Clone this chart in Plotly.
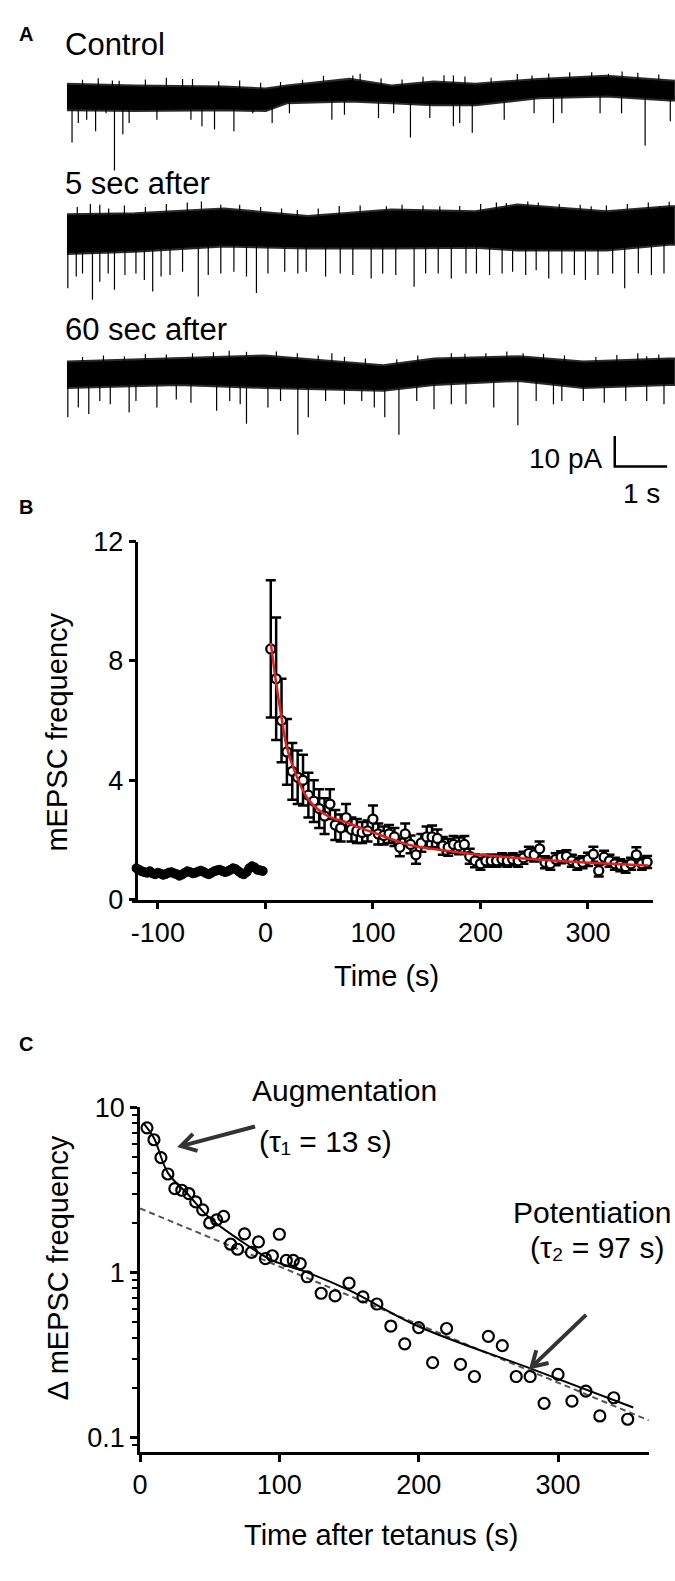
import math
import plotly.graph_objects as go

W, H = 675, 1581
def fx(px): return px / W
def fy(py): return 1 - py / H
FONT = "Liberation Sans, Arial, sans-serif"

# ---------------- Panel A: traces (time in s, current in pA relative to each trace baseline) ----------------
ctrl_env_s   = [0, 1.3, 3.0, 3.8, 4.2, 5.4, 6.2, 7.0, 7.8, 9.0, 10.3, 11.5, 11.61]
ctrl_top     = [3.2, 2.6, 2.3, 1.6, 2.6, 4.8, 2.6, 3.9, 3.2, 4.8, 5.8, 4.2, 4.2]
ctrl_bot     = [-5.5, -5.8, -5.5, -5.8, -3.2, -2.6, -3.2, -3.9, -3.9, -1.6, -1.0, -2.3, -2.3]
ctrl_dn_s    = [0.10, 0.22, 0.38, 0.55, 0.75, 0.91, 1.07, 1.19, 1.72, 2.37, 2.58, 2.82, 3.19, 3.55,
                3.92, 4.25, 5.06, 5.30, 5.95, 6.24, 6.56, 6.93, 7.38, 7.50, 7.74, 8.35, 8.92, 9.29,
                9.45, 10.18, 10.59, 11.04, 11.52]
ctrl_dn_pA   = [-16.1, -9.7, -8.6, -12.4, -6.5, -25.3, -13.4, -9.7, -8.6, -8.6, -10.8, -11.8, -12.4,
                -6.5, -9.7, -6.5, -8.6, -7.0, -8.1, -6.5, -14.5, -8.1, -10.8, -9.7, -12.9, -8.6,
                -6.5, -9.7, -6.5, -6.5, -6.5, -17.2, -9.1]
ctrl_up_s    = [0.3, 0.6, 0.87, 1.0, 1.5, 1.9, 2.21, 2.4, 2.9, 3.3, 3.7, 4.08, 4.5, 4.9, 5.46, 5.6,
                6.0, 6.4, 6.8, 7.2, 7.38, 7.6, 8.1, 8.6, 8.88, 9.2, 9.6, 10.02, 10.34, 10.6, 10.9, 11.3]
ctrl_up_pA   = [4.5, 5.0, 4.3, 4.2, 4.6, 5.2, 4.8, 4.8, 4.0, 4.3, 3.5, 3.8, 4.5, 5.8, 5.9, 6.5,
                5.0, 4.6, 5.5, 6.0, 5.9, 5.6, 5.2, 6.4, 5.9, 6.6, 7.0, 7.0, 6.5, 7.2, 6.8, 6.2]

s5_env_s     = [0, 1.3, 3.0, 4.6, 6.2, 7.8, 8.6, 10.3, 11.5, 11.61]
s5_top       = [7.1, 7.4, 9.0, 6.5, 8.7, 8.1, 10.3, 8.1, 9.7, 9.7]
s5_bot       = [-6.0, -5.2, -3.5, -4.2, -4.2, -3.9, -4.8, -4.8, -2.9, -2.9]
s5_dn_s      = [0.02, 0.18, 0.30, 0.49, 0.63, 0.79, 0.91, 1.11, 1.32, 1.48, 1.64, 1.80, 1.97, 2.21,
                2.51, 2.70, 2.94, 3.19, 3.43, 3.62, 3.84, 4.16, 4.41, 4.57, 4.94, 5.22, 5.46, 5.81,
                6.03, 6.28, 6.63, 6.85, 7.09, 7.34, 7.62, 7.82, 8.07, 8.31, 8.51, 8.76, 8.96, 9.20,
                9.45, 9.69, 9.90, 10.14, 10.42, 10.65, 10.91, 11.16, 11.40]
s5_dn_pA     = [-17.2, -13.4, -12.4, -21.0, -15.1, -12.4, -17.7, -12.9, -12.4, -14.5, -18.3, -13.4,
                -12.9, -11.8, -19.9, -12.9, -12.4, -11.8, -13.4, -18.8, -12.4, -11.8, -12.4, -11.8,
                -13.4, -12.4, -12.9, -14.0, -12.4, -12.9, -16.7, -12.4, -12.4, -14.0, -12.4, -12.4,
                -12.9, -12.4, -11.8, -12.9, -11.3, -14.0, -12.4, -12.9, -14.5, -12.9, -12.4, -17.2,
                -12.4, -12.9, -12.4]
s5_up_s      = [0.2, 0.45, 0.63, 0.8, 1.1, 1.5, 1.9, 2.3, 2.57, 2.94, 3.3, 3.7, 4.1, 4.4, 4.8, 5.2,
                5.6, 6.10, 6.4, 6.8, 7.12, 7.5, 7.9, 8.2, 8.39, 8.80, 9.0, 9.4, 9.8, 10.01, 10.3, 10.7,
                11.1, 11.32, 11.5]
s5_up_pA     = [9.5, 10.5, 10.2, 9.0, 10.0, 9.5, 10.5, 11.0, 11.3, 10.2, 10.2, 9.5, 9.0, 8.5, 9.0,
                9.8, 10.0, 9.7, 10.2, 10.0, 9.7, 9.8, 10.5, 11.0, 10.8, 11.3, 11.0, 10.5, 10.2, 9.7,
                10.0, 10.5, 11.0, 9.7, 11.2]

s60_env_s    = [0, 2.13, 3.77, 6.04, 7.01, 8.63, 9.86, 11.48, 11.61]
s60_top      = [3.5, 4.5, 5.5, 2.3, 4.5, 5.2, 3.5, 4.5, 4.5]
s60_bot      = [-5.2, -4.2, -5.2, -6.1, -4.2, -2.9, -5.2, -4.2, -4.2]
s60_dn_s     = [0.02, 0.22, 0.42, 0.63, 0.83, 1.19, 1.32, 1.72, 2.09, 2.37, 2.86, 3.11, 3.31, 3.43,
                3.84, 4.08, 4.41, 4.61, 4.94, 5.30, 5.63, 5.87, 6.07, 6.34, 6.68, 7.01, 7.34, 7.62,
                8.15, 8.61, 8.96, 9.29, 9.45, 9.86, 10.26, 10.67, 11.07, 11.40]
s60_dn_pA    = [-14.8, -11.6, -13.8, -9.5, -10.6, -13.3, -9.5, -11.6, -9.0, -10.1, -12.7, -9.5,
                -10.6, -17.0, -11.6, -9.5, -20.6, -14.8, -9.5, -10.6, -9.5, -11.6, -14.8, -20.6,
                -9.5, -12.2, -10.6, -10.6, -11.6, -17.5, -9.5, -10.6, -9.5, -9.5, -10.1, -9.5,
                -9.5, -10.6]
s60_up_s     = [0.3, 0.7, 1.1, 1.5, 1.9, 2.4, 2.8, 3.1, 3.43, 4.0, 4.4, 4.8, 5.06, 5.3, 5.7, 6.3,
                6.7, 7.34, 7.6, 8.0, 8.4, 8.71, 9.1, 9.5, 10.1, 10.5, 10.9, 11.07, 11.3]
s60_up_pA    = [5.0, 5.5, 5.2, 6.0, 5.8, 6.2, 6.5, 7.0, 6.7, 6.8, 6.2, 5.5, 6.2, 5.0, 4.5, 4.2,
               5.5, 6.2, 6.0, 6.2, 6.8, 6.2, 6.0, 5.5, 5.0, 5.6, 6.2, 5.2, 5.8]

# ---------------- Panel B ----------------
pre_t = [-120, -117.5, -115, -112.5, -110, -107.5, -105, -102.5, -100, -97.5, -95, -92.5,
         -90, -87.5, -85, -82.5, -80, -77.5, -75, -72.5, -70, -67.5, -65, -62.5,
         -60, -57.5, -55, -52.5, -50, -47.5, -45, -42.5, -40, -37.5, -35, -32.5,
         -30, -27.5, -25, -22.5, -20, -17.5, -15, -12.5, -10, -7.5, -5, -2.5]
pre_v = [1.05, 1.0, 0.95, 0.92, 0.9, 0.95, 0.88, 0.85, 0.9, 0.87, 0.83, 0.86,
         0.9, 0.92, 0.88, 0.85, 0.8, 0.84, 0.9, 0.95, 0.92, 0.88, 0.9, 0.94,
         0.97, 0.93, 0.88, 0.85, 0.9, 0.95, 0.98, 1.0, 0.96, 0.92, 0.95, 1.0,
         1.05, 1.02, 0.95, 0.88, 0.85, 0.92, 1.05, 1.12, 1.08, 1.0, 0.98, 0.96]
post_t = [5, 10, 15, 20, 25, 30, 35, 40, 45, 50, 55, 60, 65, 70, 75, 80, 85, 90, 95, 100,
          105, 110, 115, 120, 125, 130, 135, 140, 145, 150, 155, 160, 165, 170, 175, 180,
          185, 190, 195, 200, 205, 210, 215, 220, 225, 230, 235, 240, 245, 250, 255, 260,
          265, 270, 275, 280, 285, 290, 295, 300, 305, 310, 315, 320, 325, 330, 335, 340,
          345, 350, 355]
post_v = [8.4, 7.4, 6.0, 4.95, 4.3, 4.1, 4.0, 3.5, 3.3, 3.05, 2.8, 3.2, 2.5, 2.4, 2.75, 2.35,
          2.3, 2.25, 2.3, 2.7, 2.2, 2.15, 2.2, 2.1, 1.75, 2.2, 1.85, 1.5, 1.9, 2.1, 2.1, 2.05,
          1.8, 1.75, 1.85, 1.8, 1.85, 1.45, 1.3, 1.2, 1.3, 1.3, 1.3, 1.35, 1.3, 1.35, 1.3, 1.4,
          1.55, 1.5, 1.7, 1.25, 1.2, 1.35, 1.42, 1.45, 1.3, 1.2, 1.25, 1.35, 1.52, 0.97, 1.42,
          1.3, 1.2, 1.15, 1.1, 1.2, 1.5, 1.2, 1.26]
post_se = [2.3, 2.05, 1.4, 1.1, 0.95, 0.9, 0.85, 0.75, 0.7, 0.65, 0.6, 0.5, 0.5, 0.45, 0.45,
           0.4, 0.4, 0.35, 0.35, 0.45, 0.35, 0.3, 0.3, 0.3, 0.3, 0.35, 0.3, 0.3, 0.3, 0.35,
           0.38, 0.3, 0.3, 0.28, 0.28, 0.28, 0.28, 0.25, 0.22, 0.2, 0.2, 0.2, 0.2, 0.2, 0.2,
           0.2, 0.2, 0.2, 0.22, 0.22, 0.25, 0.2, 0.2, 0.2, 0.2, 0.2, 0.2, 0.2, 0.2, 0.22,
           0.25, 0.2, 0.22, 0.2, 0.2, 0.2, 0.2, 0.2, 0.25, 0.2, 0.2]
fitB_t = [5, 10, 15, 20, 28, 40, 58, 74, 100, 135, 160, 196, 240, 280, 320, 356]
fitB_v = [8.6, 7.25, 6.1, 5.1, 4.23, 3.35, 2.8, 2.6, 2.25, 1.82, 1.68, 1.51, 1.38, 1.28, 1.2, 1.14]
B_xticks = [-100, 0, 100, 200, 300]
B_xlabels = ["-100", "0", "100", "200", "300"]
B_yticks = [0, 4, 8, 12]

# ---------------- Panel C ----------------
c_t = [5, 10, 15, 20, 25, 30, 35, 40, 45, 50, 55, 60, 65, 70, 75, 80, 85, 90, 95, 100, 105,
       110, 115, 120, 130, 140, 150, 160, 170, 180, 190, 200, 210, 220, 230, 240, 250, 260,
       270, 280, 290, 300, 310, 320, 330, 340, 350]
c_v = [7.5, 6.35, 4.95, 3.94, 3.21, 3.14, 3.0, 2.67, 2.39, 1.99, 2.08, 2.18, 1.48, 1.38, 1.71,
       1.32, 1.53, 1.21, 1.26, 1.70, 1.18, 1.18, 1.13, 0.94, 0.747, 0.72, 0.86, 0.71, 0.643,
       0.473, 0.369, 0.463, 0.284, 0.457, 0.277, 0.234, 0.41, 0.36, 0.234, 0.234, 0.161,
       0.241, 0.166, 0.191, 0.135, 0.174, 0.129]
fitC_t = [3, 10, 20, 35, 50, 70, 95, 120, 150, 200, 280, 354]
fitC_v = [7.9, 6.5, 4.0, 2.93, 2.13, 1.6, 1.18, 1.0, 0.78, 0.47, 0.262, 0.152]
slowC_t = [0, 365]
slowC_v = [2.44, 0.127]
C_xticks = [0, 100, 200, 300]
C_yticks = [0.1, 1, 10]
C_ylabels = ["0.1", "1", "10"]
C_minor = [0.09, 0.2, 0.3, 0.4, 0.5, 0.6, 0.7, 0.8, 0.9, 2, 3, 4, 5, 6, 7, 8, 9]

fig = go.Figure()

# vertical stacking of the three sweeps (layout, pA on the panel-A axis)
offsets = {"ctrl": -12.9, "s5": -59.7, "s60": -104.5}

def add_sweep(env_s, top, bot, dn_s, dn_pA, up_s, up_pA, off):
    xs = list(env_s) + list(env_s)[::-1]
    ys = [v + off for v in top] + [v + off for v in bot][::-1]
    fig.add_trace(go.Scatter(x=xs, y=ys, fill="toself", fillcolor="black",
                             line=dict(color="#2a2a2a", width=2), mode="lines",
                             xaxis="x", yaxis="y", hoverinfo="skip"))
    sx, sy = [], []
    for s, d in list(zip(dn_s, dn_pA)) + list(zip(up_s, up_pA)):
        sx += [s, s, None]
        sy += [off, off + d, None]
    fig.add_trace(go.Scatter(x=sx, y=sy, mode="lines", line=dict(color="black", width=1.2),
                             xaxis="x", yaxis="y", hoverinfo="skip"))

add_sweep(ctrl_env_s, ctrl_top, ctrl_bot, ctrl_dn_s, ctrl_dn_pA, ctrl_up_s, ctrl_up_pA, offsets["ctrl"])
add_sweep(s5_env_s, s5_top, s5_bot, s5_dn_s, s5_dn_pA, s5_up_s, s5_up_pA, offsets["s5"])
add_sweep(s60_env_s, s60_top, s60_bot, s60_dn_s, s60_dn_pA, s60_up_s, s60_up_pA, offsets["s60"])

# scale bar: 1 s, 10 pA
fig.add_trace(go.Scatter(x=[10.46, 10.46, 11.46], y=[-125.5, -135.5, -135.5], mode="lines",
                         line=dict(color="black", width=2.5), xaxis="x", yaxis="y"))

# Panel B
fig.add_trace(go.Scatter(x=pre_t, y=pre_v, mode="markers",
                         marker=dict(size=9, color="black", line=dict(color="black", width=1)),
                         xaxis="x2", yaxis="y2"))
fig.add_trace(go.Scatter(x=post_t, y=post_v, mode="markers",
                         error_y=dict(type="data", array=post_se, color="black", thickness=2.5, width=5),
                         marker=dict(size=9, color="white", line=dict(color="black", width=2.3)),
                         xaxis="x2", yaxis="y2"))
fig.add_trace(go.Scatter(x=fitB_t, y=fitB_v, mode="lines",
                         line=dict(color="#e3201b", width=2.5, shape="spline"),
                         xaxis="x2", yaxis="y2"))

# Panel C
fig.add_trace(go.Scatter(x=slowC_t, y=slowC_v, mode="lines",
                         line=dict(color="#555", width=2, dash="6px,4px"), xaxis="x3", yaxis="y3"))
fig.add_trace(go.Scatter(x=fitC_t, y=fitC_v, mode="lines",
                         line=dict(color="black", width=2, shape="spline"), xaxis="x3", yaxis="y3"))
fig.add_trace(go.Scatter(x=c_t, y=c_v, mode="markers",
                         marker=dict(size=11, color="rgba(0,0,0,0)", line=dict(color="black", width=2.2)),
                         xaxis="x3", yaxis="y3"))

axis_common = dict(showline=True, linecolor="black", linewidth=2.5, ticks="outside", ticklen=7,
                   tickwidth=2.5, tickcolor="black", showgrid=False, zeroline=False,
                   tickfont=dict(family=FONT, size=27, color="black"))

fig.update_layout(
    width=W, height=H, margin=dict(l=0, r=0, t=0, b=0),
    paper_bgcolor="white", plot_bgcolor="white", showlegend=False,
    font=dict(family=FONT, color="black"),
    xaxis=dict(domain=[fx(59.5), 1.0], range=[0, 11.61], visible=False),
    yaxis=dict(domain=[fy(520), fy(40)], range=[-154.8, 0], visible=False),
    xaxis2=dict(domain=[fx(125), fx(653)], range=[-124.5, 360.7], anchor="y2",
                tickvals=B_xticks, ticktext=B_xlabels, **axis_common),
    yaxis2=dict(domain=[fy(901.7), fy(536.7)], range=[0, 12], anchor="free", position=fx(130),
                tickvals=B_yticks, **axis_common),
    xaxis3=dict(domain=[fx(133.6), fx(648.7)], range=[0, 365.3], anchor="y3",
                tickvals=C_xticks, **axis_common),
    yaxis3=dict(domain=[fy(1465), fy(1113.3)], range=[-1.089, 1.0], type="log", anchor="x3",
                tickvals=C_yticks, ticktext=C_ylabels,
                minor=dict(ticks="outside", ticklen=5, tickwidth=2, tickcolor="black", tickvals=C_minor),
                **axis_common),
)

def txt(text, x, y, size=29, xanchor="center", bold=False, angle=0):
    fig.add_annotation(text=("<b>%s</b>" % text) if bold else text, x=fx(x), y=fy(y),
                       xref="paper", yref="paper", showarrow=False, xanchor=xanchor,
                       yanchor="middle", textangle=angle,
                       font=dict(family=FONT, size=size, color="black"))

txt("A", 9, 19, size=20, xanchor="left", bold=True)
txt("B", 9, 502, size=20, xanchor="left", bold=True)
txt("C", 9, 1049, size=20, xanchor="left", bold=True)
txt("Control", 56, 30, size=31, xanchor="left")
txt("5 sec after", 56, 172, size=31, xanchor="left")
txt("60 sec after", 56, 321, size=31, xanchor="left")
txt("10 pA", 603, 452, size=28, xanchor="right")
txt("1 s", 641, 488, size=28)
txt("mEPSC frequency", 50, 731, size=29, angle=-90)
txt("Time (s)", 383, 980, size=29)
txt("Δ mEPSC frequency", 50, 1277, size=29, angle=-90)
txt("Time after tetanus (s)", 378, 1549, size=29)
txt("Augmentation", 341, 1096, size=30)
txt("(τ₁ = 13 s)", 321, 1148, size=30)
txt("Potentiation", 673, 1221, size=30, xanchor="right")
txt("(τ₂ = 97 s)", 596, 1256, size=30)

# arrows (drawn as shapes): tail -> head in page pixels
for (hx, hy), (tx, ty) in [((175, 1153), (250, 1133)), ((530, 1378), (585, 1325))]:
    fig.add_shape(type="line", xref="paper", yref="paper", x0=fx(tx), y0=fy(ty), x1=fx(hx), y1=fy(hy),
                  line=dict(color="#333", width=4))
    L = math.hypot(hx - tx, hy - ty)
    dx, dy = (hx - tx) / L, (hy - ty) / L
    nx, ny = -dy, dx
    p1 = (hx - 15 * dx + 9 * nx, hy - 15 * dy + 9 * ny)
    p2 = (hx - 15 * dx - 9 * nx, hy - 15 * dy - 9 * ny)
    path = "M %f,%f L %f,%f L %f,%f" % (fx(p1[0]), fy(p1[1]), fx(hx), fy(hy), fx(p2[0]), fy(p2[1]))
    fig.add_shape(type="path", xref="paper", yref="paper", path=path,
                  line=dict(color="#333", width=4))

fig.write_html("out.html", config={"displayModeBar": False},
               post_script="document.body.style.margin='0px';document.body.style.overflow='hidden';")
